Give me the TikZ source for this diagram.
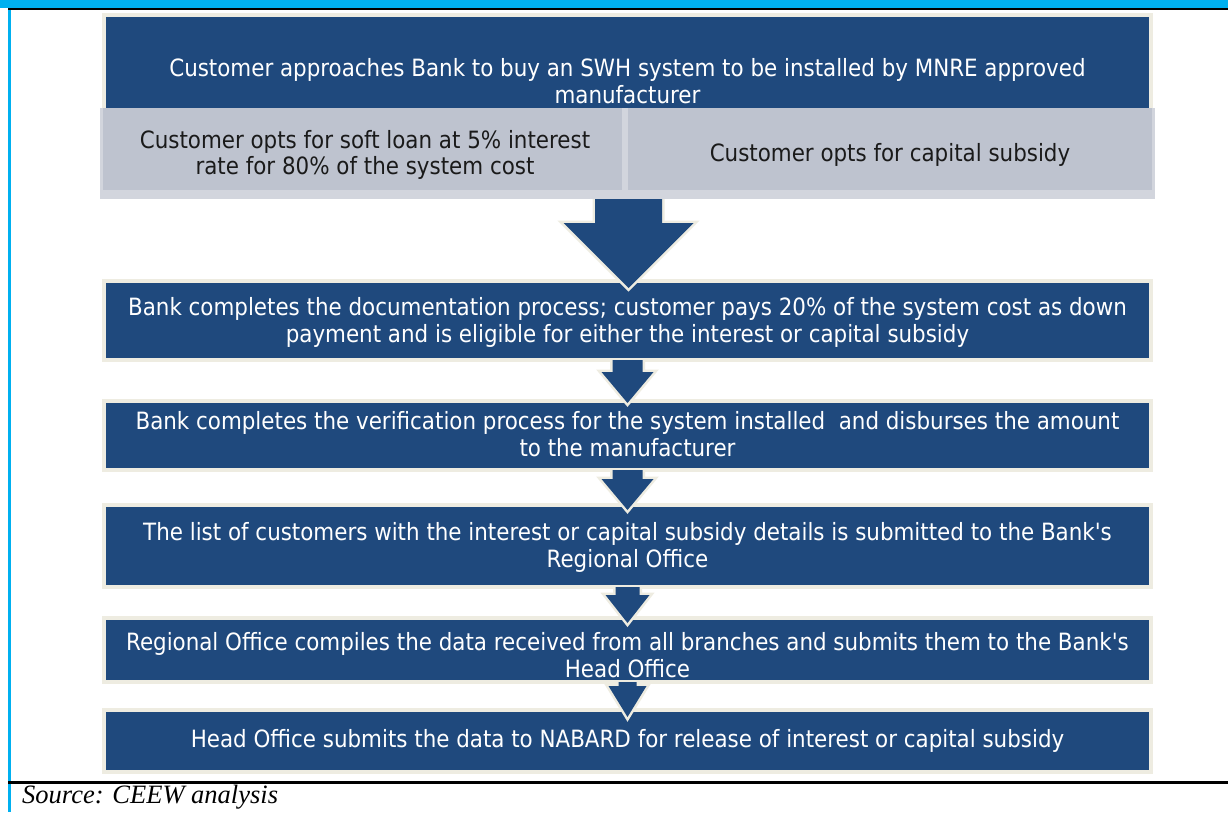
\documentclass[tikz,border=0pt]{standalone}
\usepackage{fontspec}
\setmainfont{DejaVu Sans Condensed}
\newfontfamily\srcfont{Liberation Serif}
\usetikzlibrary{calc}
\definecolor{dblue}{HTML}{1F497D}
\definecolor{beige}{HTML}{EEECE1}
\definecolor{greyrow}{HTML}{BEC3CF}
\definecolor{greylight}{HTML}{D2D5DD}
\definecolor{cyanbar}{HTML}{00B0F0}
\definecolor{textdark}{HTML}{1A1A1A}
\newcommand{\blockarr}[6]{%
  \path #1 coordinate (ba-s);
  \path #2 coordinate (ba-e);
  \coordinate (ba-t) at ($(ba-s |- ba-e)+(0,#6)$);
  \coordinate (ba-h) at ($(ba-t)+(0,-#5)$);
  \draw[arrline] ($(ba-s)+(-#3,0)$) -- ($(ba-h)+(-#3,0)$) -- ($(ba-h)+(-#4,0)$) -- (ba-t)
     -- ($(ba-h)+(#4,0)$) -- ($(ba-h)+(#3,0)$) -- ($(ba-s)+(#3,0)$);
  \fill[dblue] ($(ba-s)+(-#3,0)$) -- ($(ba-h)+(-#3,0)$) -- ($(ba-h)+(-#4,0)$) -- (ba-t)
     -- ($(ba-h)+(#4,0)$) -- ($(ba-h)+(#3,0)$) -- ($(ba-s)+(#3,0)$) -- cycle;
}
\begin{document}
\begin{tikzpicture}[x=1pt,y=-1pt,
  box/.style={rectangle, fill=dblue, draw=beige, line width=4pt, inner sep=0pt, outer sep=0pt, minimum width=1047pt},
  cell/.style={rectangle, fill=greyrow, inner sep=0pt, outer sep=0pt},
  txt/.style={text=white, align=center, inner sep=0pt, font=\fontsize{23.8}{27}\selectfont},
  gtxt/.style={text=textdark, align=center, inner sep=0pt, font=\fontsize{23.8}{26}\selectfont},
  arrline/.style={draw=beige, line width=5pt, line join=miter}]
\useasboundingbox (0,0) rectangle (1228,812);
\fill[white] (0,0) rectangle (1228,812);
% frame
\fill[cyanbar] (0,0) rectangle (1228,8);
\draw[black, line width=1.5pt] (8,9) -- (1228,9);
\fill[cyanbar] (8,9.5) rectangle (10.5,812);
\draw[black, line width=2.5pt] (8,782.5) -- (1228,782.5);
% boxes
\node[box, minimum height=95pt] (b1) at (627.5,62.5) {};
\fill[greylight] (100,108) rectangle (1155,199);
\node[cell, minimum width=519pt, minimum height=82pt] (g1) at (362.5,149) {};
\node[cell, minimum width=524pt, minimum height=82pt] (g2) at (890,149) {};
\coordinate (grow) at (628.5,199);
\node[box, minimum height=79pt] (b2) at (627.5,320.5) {};
\node[box, minimum height=69pt] (b3) at (627.5,435.5) {};
\node[box, minimum height=82pt] (b4) at (627.5,546) {};
\node[box, minimum height=64pt] (b5) at (627.5,650) {};
\node[box, minimum height=62pt] (b6) at (627.5,741) {};
% arrows
\blockarr{(grow)}{(b2.north)}{33.5}{65}{65}{7}
\blockarr{(b2.south)}{(b3.north)}{15}{26}{31}{2}
\blockarr{(b3.south)}{(b4.north)}{15}{26}{31}{5}
\blockarr{(b4.south)}{(b5.north)}{12}{22}{28}{5}
\blockarr{(b5.south)}{(b6.north)}{9}{19}{31}{7}
% texts
\node[txt] (t1) at (627.5,81) {Customer approaches Bank to buy an SWH system to be installed by MNRE approved\\manufacturer};
\node[gtxt] (tg1) at (365,155) {Customer opts for soft loan at 5\% interest\\rate for 80\% of the system cost};
\node[gtxt] (tg2) at (890,155) {Customer opts for capital subsidy};
\node[txt] (t2) at (627.5,322.5) {Bank completes the documentation process; customer pays 20\% of the system cost as down\\payment and is eligible for either the interest or capital subsidy};
\node[txt] (t3) at (627.5,434) {Bank completes the verification process for the system installed\ \ and disburses the amount\\to the manufacturer};
\node[txt] (t4) at (627.5,547) {The list of customers with the interest or capital subsidy details is submitted to the Bank\textquotesingle s\\Regional Office};
\node[txt] (t5) at (627.5,655.5) {Regional Office compiles the data received from all branches and submits them to the Bank\textquotesingle s\\Head Office};
\node[txt] (t6) at (627.5,741) {Head Office submits the data to NABARD for release of interest or capital subsidy};
\node[anchor=west, inner sep=0pt, font=\srcfont\itshape\fontsize{26.5}{30}\selectfont] (src) at (22,797) {Source: CEEW analysis};
\end{tikzpicture}
\end{document}
